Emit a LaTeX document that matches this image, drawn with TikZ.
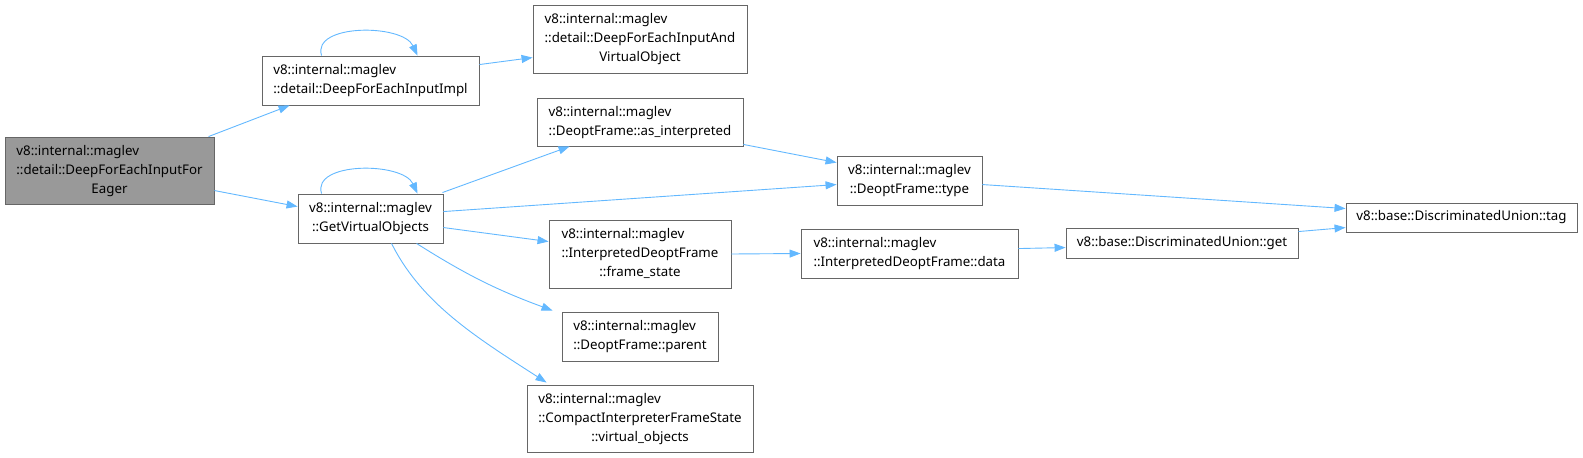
\documentclass[tikz,border=0pt]{standalone}
\usepackage{fontspec}
\setmainfont{Noto Sans}
\usetikzlibrary{arrows.meta,calc}
\definecolor{edgeblue}{HTML}{63B8FF}
\definecolor{boxgray}{HTML}{666666}
\definecolor{rootfill}{HTML}{999999}
\tikzset{
  box/.style={draw=boxgray, fill=white, line width=0.9pt, inner sep=0pt,
    font=\fontsize{13.3}{19}\selectfont},
  rootbox/.style={box, fill=rootfill},
  arr/.style={draw=edgeblue, line width=0.9pt, -{Triangle[length=11pt,width=8pt]}}
}
\newcommand{\lastc}[1]{\multicolumn{1}{@{}c@{}}{#1}}
\begin{document}
\begin{tikzpicture}[x=1pt,y=-1pt]
\useasboundingbox (0,0) rectangle (1583,458);

\node[rootbox, minimum width=209pt, minimum height=67pt] (A) at (109.5,170.5)
  {\begin{tabular}{@{}l@{}}v8::internal::maglev\\::detail::DeepForEachInputFor\\\lastc{Eager}\end{tabular}};
\node[box, minimum width=217pt, minimum height=49pt] (B) at (370.5,80.5)
  {\begin{tabular}{@{}l@{}}v8::internal::maglev\\\lastc{::detail::DeepForEachInputImpl}\end{tabular}};
\node[box, minimum width=214pt, minimum height=68pt] (C) at (640,39)
  {\begin{tabular}{@{}l@{}}v8::internal::maglev\\::detail::DeepForEachInputAnd\\\lastc{VirtualObject}\end{tabular}};
\node[box, minimum width=206pt, minimum height=48pt] (D) at (640,122)
  {\begin{tabular}{@{}l@{}}v8::internal::maglev\\\lastc{::DeoptFrame::as\_interpreted}\end{tabular}};
\node[box, minimum width=145pt, minimum height=49pt] (E) at (909.5,180.5)
  {\begin{tabular}{@{}l@{}}v8::internal::maglev\\\lastc{::DeoptFrame::type}\end{tabular}};
\node[box, minimum width=145pt, minimum height=49pt] (F) at (370.5,218.5)
  {\begin{tabular}{@{}l@{}}v8::internal::maglev\\\lastc{::GetVirtualObjects}\end{tabular}};
\node[box, minimum width=182pt, minimum height=68pt] (G) at (640,254)
  {\begin{tabular}{@{}l@{}}v8::internal::maglev\\::InterpretedDeoptFrame\\\lastc{::frame\_state}\end{tabular}};
\node[box, minimum width=156pt, minimum height=49pt] (H) at (640,336.5)
  {\begin{tabular}{@{}l@{}}v8::internal::maglev\\\lastc{::DeoptFrame::parent}\end{tabular}};
\node[box, minimum width=226pt, minimum height=67pt] (I) at (640,418.5)
  {\begin{tabular}{@{}l@{}}v8::internal::maglev\\::CompactInterpreterFrameState\\\lastc{::virtual\_objects}\end{tabular}};
\node[box, minimum width=217pt, minimum height=49pt] (J) at (909.5,253.5)
  {\begin{tabular}{@{}l@{}}v8::internal::maglev\\\lastc{::InterpretedDeoptFrame::data}\end{tabular}};
\node[box, minimum width=232pt, minimum height=30pt] (K) at (1182,243)
  {v8::base::DiscriminatedUnion::get};
\node[box, minimum width=231pt, minimum height=29pt] (L) at (1461.5,217.5)
  {v8::base::DiscriminatedUnion::tag};

% edges
\draw[arr] ($(A.north west)+(204,0)$) -- ($(B.south west)+(28,0)$);
\draw[arr] ($(A.north east)+(0,54)$) -- ($(F.north west)+(0,13)$);
\draw[arr] ($(B.north west)+(60,0)$) .. controls +(-10,-32) and +(-15,-32) .. ($(B.north west)+(156,0)$);
\draw[arr] ($(B.north east)+(0,9)$) -- ($(C.north west)+(0,53)$);
\draw[arr] ($(F.north west)+(24,0)$) .. controls +(-10,-32) and +(-15,-32) .. ($(F.north west)+(120,0)$);
\draw[arr] ($(F.north east)+(-1,-1)$) -- ($(D.south west)+(33,0)$);
\draw[arr] ($(F.north east)+(0,18)$) -- ($(E.north west)+(0,29)$);
\draw[arr] ($(F.north east)+(0,34)$) -- ($(G.north west)+(0,22)$);
\draw[arr] ($(F.south west)+(119,0)$) to[bend right=6] ($(H.north west)+(-9,-1)$);
\draw[arr] ($(F.south west)+(94,0)$) .. controls +(30,60) and +(-70,-45) .. ($(I.north west)+(20,-2)$);
\draw[arr] ($(D.south east)+(0,-2)$) -- ($(E.north west)+(0,7)$);
\draw[arr] ($(E.north east)+(0,29)$) -- ($(L.north west)+(0,6)$);
\draw[arr] (G.east) -- (J.west);
\draw[arr] ($(J.north east)+(0,20)$) -- ($(K.north west)+(0,20)$);
\draw[arr] ($(K.north east)+(0,4)$) -- ($(L.north west)+(0,25)$);
\end{tikzpicture}
\end{document}
